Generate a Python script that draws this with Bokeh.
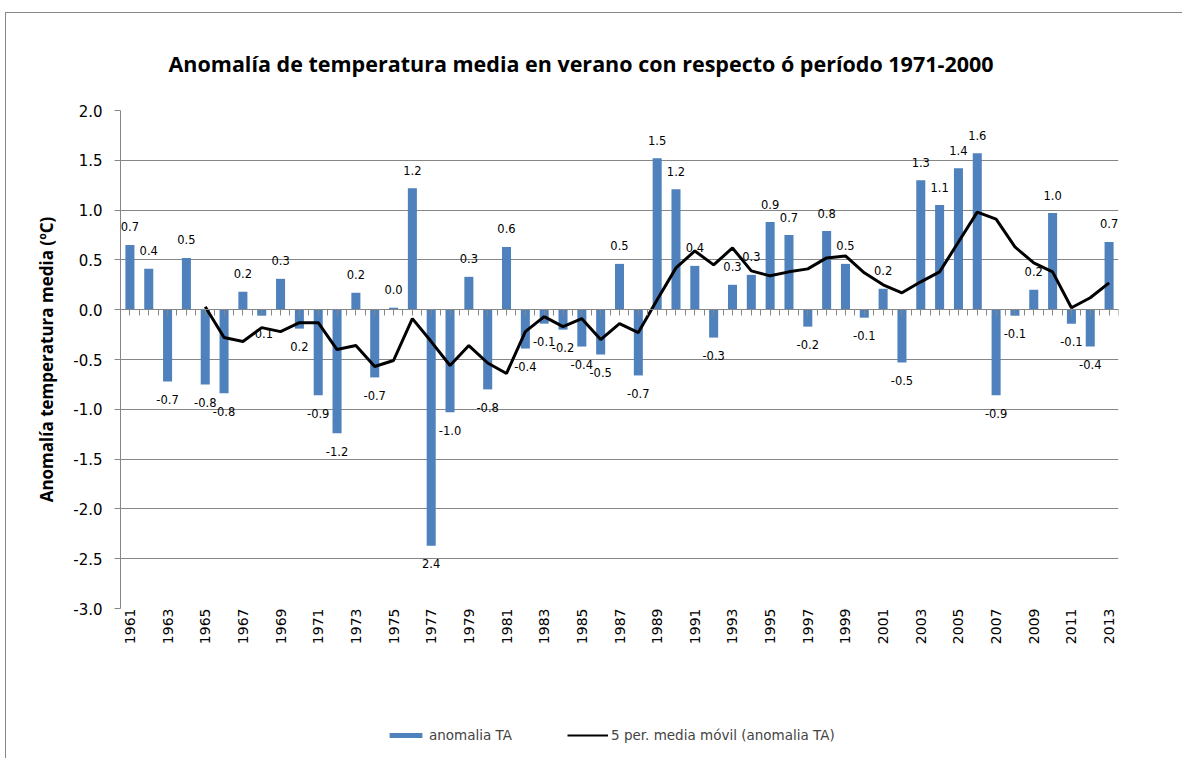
import numpy as np
from bokeh.plotting import figure
from bokeh.layouts import column
from bokeh.models import (ColumnDataSource, FixedTicker, LinearAxis, Legend, LegendItem,
                          Range1d, NumeralTickFormatter, CustomJSTickFormatter)
from bokeh.embed import file_html
from bokeh.resources import INLINE
from bokeh.core.properties import value

# ---------------- data ----------------
years = list(range(1961, 2014))
anomalia = [0.65, 0.41, -0.72, 0.52, -0.75, -0.84, 0.18, -0.06, 0.31, -0.19,
            -0.86, -1.24, 0.17, -0.68, 0.02, 1.22, -2.37, -1.03, 0.33, -0.80,
            0.63, -0.39, -0.14, -0.20, -0.37, -0.45, 0.46, -0.66, 1.52, 1.21,
            0.44, -0.28, 0.25, 0.35, 0.88, 0.75, -0.17, 0.79, 0.46, -0.08,
            0.21, -0.53, 1.30, 1.05, 1.42, 1.57, -0.86, -0.06, 0.20, 0.97,
            -0.14, -0.37, 0.68]
labels = ["0.7", "0.4", "-0.7", "0.5", "-0.8", "-0.8", "0.2", "-0.1", "0.3", "0.2",
          "-0.9", "-1.2", "0.2", "-0.7", "0.0", "1.2", "2.4", "-1.0", "0.3", "-0.8",
          "0.6", "-0.4", "-0.1", "-0.2", "-0.4", "-0.5", "0.5", "-0.7", "1.5", "1.2",
          "0.4", "-0.3", "0.3", "0.3", "0.9", "0.7", "-0.2", "0.8", "0.5", "-0.1",
          "0.2", "-0.5", "1.3", "1.1", "1.4", "1.6", "-0.9", "-0.1", "0.2", "1.0",
          "-0.1", "-0.4", "0.7"]
ma_years = list(range(1965, 2014))
media_movil = [0.03, -0.28, -0.32, -0.18, -0.22, -0.13, -0.13, -0.40, -0.36, -0.57,
               -0.51, -0.09, -0.32, -0.56, -0.36, -0.535, -0.64, -0.22, -0.07, -0.17,
               -0.09, -0.30, -0.14, -0.23, 0.10, 0.42, 0.59, 0.45, 0.62, 0.39,
               0.34, 0.38, 0.41, 0.52, 0.54, 0.37, 0.25, 0.17, 0.28, 0.38,
               0.68, 0.98, 0.91, 0.63, 0.47, 0.38, 0.02, 0.12, 0.27]
y_ticks = [-3.0, -2.5, -2.0, -1.5, -1.0, -0.5, 0.0, 0.5, 1.0, 1.5, 2.0]
x_tick_years = years[::2]

title_text = "Anomalía de temperatura media en verano con respecto ó período 1971-2000"
y_title = "Anomalía temperatura media (ºC)"
legend_bar = "anomalia TA"
legend_line = "5 per. media móvil (anomalia TA)"

GRID = "#868686"
BLUE = "#4F81BD"
W = 1176

# ---------------- main figure ----------------
src = ColumnDataSource(dict(x=years, top=anomalia, lab=labels,
                            off=[-18 if v >= 0 else 18 for v in anomalia]))
ma_src = ColumnDataSource(dict(x=ma_years, y=media_movil))

p = figure(width=W, height=690, x_range=Range1d(years[0] - 0.5, years[-1] + 0.5),
           y_range=Range1d(y_ticks[0], y_ticks[-1]), output_backend="svg",
           toolbar_location=None, min_border_left=114, min_border_right=64,
           min_border_top=96, min_border_bottom=95)
p.outline_line_color = None

p.title.text = title_text
p.title.align = "left"
p.title.offset = 48
p.title.text_font = "Open Sans"
p.title.text_font_style = "bold"
p.title.text_font_size = "21.5px"
p.title.text_color = "black"
p.title.standoff = 66

bars = p.vbar(x="x", top="top", bottom=0, width=0.48, fill_color=BLUE, line_color=None,
              source=src)
line = p.line(x="x", y="y", line_color="black", line_width=3, source=ma_src)

p.text(x="x", y="top", text="lab", y_offset="off", text_align="center",
       text_baseline="middle", text_font=value("DejaVu Sans"), text_font_size="11.5px",
       text_color="black", source=src)

# bottom axis with year labels
xa = p.xaxis[0]
xa.ticker = FixedTicker(ticks=x_tick_years)
xa.major_label_orientation = np.pi / 2
xa.axis_line_color = None
xa.major_tick_line_color = None
xa.minor_tick_line_color = None
xa.major_tick_in = 0
xa.major_tick_out = 0
xa.major_label_text_font = "DejaVu Sans"
xa.major_label_text_font_size = "14px"
xa.major_label_text_color = "black"
xa.major_label_standoff = 0

# zero-line axis with small tick marks
half_ticks = [years[0] - 0.5 + 0.5 * k for k in range(2 * len(years) + 1)]
za = LinearAxis(fixed_location=0, ticker=FixedTicker(ticks=half_ticks),
                formatter=CustomJSTickFormatter(code="return ''"),
                axis_line_color=GRID, major_tick_line_color=GRID,
                major_tick_in=0, major_tick_out=6, minor_tick_line_color=None,
                major_label_text_font_size="1px", major_label_standoff=0)
p.add_layout(za, "below")

ya = p.yaxis[0]
ya.ticker = FixedTicker(ticks=y_ticks)
ya.formatter = NumeralTickFormatter(format="0.0")
ya.axis_line_color = GRID
ya.major_tick_line_color = GRID
ya.major_tick_in = 0
ya.major_tick_out = 6
ya.minor_tick_line_color = None
ya.major_label_text_font = "DejaVu Sans"
ya.major_label_text_font_size = "15px"
ya.major_label_text_color = "black"
ya.major_label_standoff = 12
ya.axis_label = y_title
ya.axis_label_text_font = "Open Sans"
ya.axis_label_text_font_style = "bold"
ya.axis_label_text_font_size = "17px"
ya.axis_label_text_color = "black"
ya.axis_label_standoff = 12

p.xgrid.visible = False
p.ygrid.ticker = FixedTicker(ticks=y_ticks)
p.ygrid.grid_line_color = GRID

# ---------------- legend strip ----------------
# the data glyphs are repeated here only to feed the legend (they fall outside this strip's ranges)
lp = figure(width=W, height=55, x_range=Range1d(0, 1), y_range=Range1d(100, 101),
            output_backend="svg", toolbar_location=None, x_axis_location=None,
            y_axis_location=None, min_border=0)
lp.outline_line_color = None
lp.grid.visible = False
lbar = lp.vbar(x="x", top="top", bottom=0, width=0.48, fill_color=BLUE, line_color=None,
               source=src)
lline = lp.line(x="x", y="y", line_color="black", line_width=2, source=ma_src)
legend = Legend(items=[LegendItem(label=legend_bar, renderers=[lbar]),
                       LegendItem(label=legend_line, renderers=[lline])],
                orientation="horizontal", location=(265, 15), border_line_color=None,
                background_fill_alpha=0,
                label_text_font="DejaVu Sans", label_text_font_size="13.5px",
                spacing=55, glyph_width=41, glyph_height=6, label_standoff=3,
                margin=0, padding=4)
lp.add_layout(legend, "center")

layout = column(p, lp, spacing=0)
layout.styles = {"margin-left": "5px", "margin-top": "12px",
                 "border-top": "1px solid #878787", "border-left": "1px solid #878787"}

open("out.html", "w").write(file_html(layout, INLINE))
